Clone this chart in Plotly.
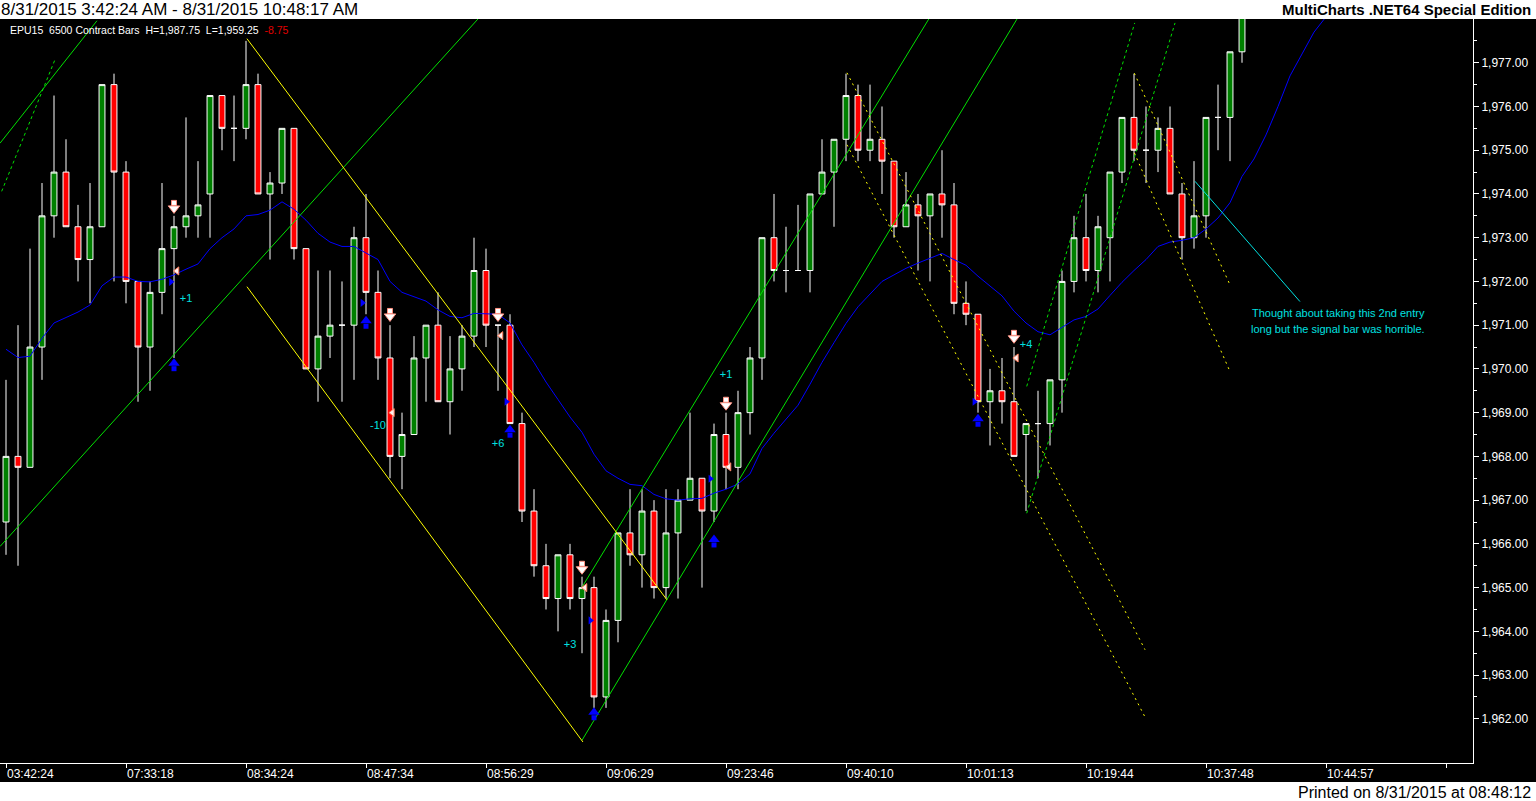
"""ES 6500 contract bars, 8/31/2015 - MultiCharts style candlestick chart."""
import plotly.graph_objects as go

# ---- time axis (one label every 10 bars)
tick_bars = [0, 10, 20, 30, 40, 50, 60, 70, 80, 90, 100, 110, 120]
tick_text = ["03:42:24", "07:33:18", "08:34:24", "08:47:34", "08:56:29",
             "09:06:29", "09:23:46", "09:40:10", "10:01:13", "10:19:44",
             "10:37:48", "10:44:57", ""]

# ---- OHLC per bar (bar 0 .. 103)
opens = [1966.5, 1968.0, 1967.75, 1970.5, 1973.5, 1974.5, 1973.25, 1972.5, 1973.25, 1976.5,
         1974.5, 1972.0, 1970.5, 1971.75, 1972.75, 1973.25, 1973.5, 1974.0, 1976.25, 1975.5,
         1975.5, 1976.5, 1974.0, 1974.25, 1975.5, 1972.75, 1970.0, 1970.75, 1971.0, 1971.0,
         1973.0, 1971.75, 1970.25, 1968.0, 1968.5, 1970.25, 1971.0, 1969.25, 1970.0, 1970.75,
         1972.25, 1971.0, 1971.0, 1968.75, 1966.75, 1965.5, 1964.75, 1965.75, 1964.75, 1965.0,
         1962.5, 1964.25, 1966.25, 1965.75, 1966.75, 1965.0, 1966.25, 1967.0, 1967.5, 1966.75,
         1968.5, 1967.75, 1969.0, 1970.25, 1973.0, 1972.25, 1972.25, 1972.25, 1974.0, 1974.5,
         1975.25, 1976.25, 1975.0, 1975.25, 1974.75, 1973.25, 1973.75, 1973.5, 1974.0, 1973.75,
         1971.5, 1971.25, 1969.25, 1969.5, 1969.25, 1968.5, 1968.75, 1968.75, 1969.75, 1972.0,
         1973.0, 1972.25, 1973.0, 1974.5, 1975.75, 1975.0, 1975.0, 1975.5, 1974.0, 1973.0,
         1973.5, 1975.75, 1975.75, 1977.25]
highs = [1969.75, 1971.0, 1972.75, 1974.25, 1976.25, 1975.25, 1973.75, 1974.25, 1976.5, 1976.75,
         1974.75, 1972.0, 1972.0, 1974.25, 1973.5, 1975.75, 1974.75, 1976.25, 1976.25, 1976.25,
         1977.5, 1976.75, 1974.5, 1975.5, 1975.5, 1972.75, 1972.25, 1972.25, 1972.0, 1973.25,
         1974.0, 1972.25, 1971.0, 1969.0, 1970.75, 1971.0, 1971.75, 1970.75, 1971.0, 1973.0,
         1972.75, 1971.0, 1971.25, 1969.0, 1967.25, 1966.0, 1965.75, 1966.0, 1965.25, 1965.25,
         1964.5, 1966.25, 1967.25, 1967.25, 1967.0, 1967.25, 1967.25, 1969.0, 1967.5, 1968.75,
         1969.0, 1969.5, 1970.5, 1973.0, 1974.0, 1973.25, 1973.75, 1974.0, 1975.25, 1975.25,
         1976.75, 1976.5, 1976.5, 1976.0, 1974.75, 1974.5, 1974.0, 1974.0, 1975.0, 1974.25,
         1972.0, 1971.25, 1970.0, 1970.25, 1970.5, 1968.75, 1969.5, 1969.75, 1972.25, 1973.5,
         1974.0, 1973.5, 1974.5, 1975.75, 1976.75, 1976.0, 1975.75, 1976.0, 1974.25, 1974.75,
         1975.75, 1976.5, 1977.25, 1978.75]
lows = [1965.75, 1965.5, 1967.75, 1969.75, 1973.0, 1973.25, 1972.0, 1971.5, 1973.25, 1972.0,
        1971.5, 1969.25, 1969.5, 1971.25, 1970.25, 1973.0, 1973.0, 1973.0, 1975.0, 1974.75,
        1975.25, 1974.0, 1972.5, 1974.0, 1972.5, 1970.0, 1969.25, 1970.25, 1969.25, 1969.75,
        1971.25, 1969.75, 1967.5, 1967.25, 1968.5, 1969.25, 1969.25, 1968.5, 1969.5, 1970.5,
        1970.5, 1969.5, 1968.75, 1966.5, 1965.25, 1964.5, 1964.0, 1964.5, 1963.5, 1962.25,
        1962.25, 1963.75, 1965.5, 1965.0, 1964.75, 1964.75, 1964.75, 1967.0, 1965.0, 1966.5,
        1967.25, 1967.25, 1968.5, 1969.75, 1972.0, 1971.75, 1972.25, 1971.75, 1974.0, 1973.25,
        1974.75, 1974.75, 1974.75, 1974.0, 1973.0, 1973.25, 1972.25, 1972.0, 1973.0, 1971.25,
        1971.0, 1969.0, 1968.25, 1968.75, 1968.0, 1966.75, 1967.5, 1968.25, 1969.0, 1971.75,
        1972.0, 1971.75, 1972.0, 1974.25, 1974.75, 1974.25, 1974.5, 1974.0, 1972.5, 1972.75,
        1973.0, 1975.0, 1974.75, 1977.0]
closes = [1968.0, 1967.75, 1970.5, 1973.5, 1974.5, 1973.25, 1972.5, 1973.25, 1976.5, 1974.5,
          1972.0, 1970.5, 1971.75, 1972.75, 1973.25, 1973.5, 1973.75, 1976.25, 1975.5, 1975.5,
          1976.5, 1974.0, 1974.25, 1975.5, 1972.75, 1970.0, 1970.75, 1971.0, 1971.0, 1973.0,
          1971.75, 1970.25, 1968.0, 1968.5, 1970.25, 1971.0, 1969.25, 1970.0, 1970.75, 1972.25,
          1971.0, 1971.0, 1968.75, 1966.75, 1965.5, 1964.75, 1965.75, 1964.75, 1965.0, 1962.5,
          1964.25, 1966.25, 1965.75, 1966.75, 1965.0, 1966.25, 1967.0, 1967.5, 1966.75, 1968.5,
          1967.75, 1969.0, 1970.25, 1973.0, 1972.25, 1972.25, 1972.25, 1974.0, 1974.5, 1975.25,
          1976.25, 1975.0, 1975.25, 1974.75, 1973.25, 1973.75, 1973.5, 1974.0, 1973.75, 1971.5,
          1971.25, 1969.25, 1969.5, 1969.25, 1968.0, 1968.75, 1968.75, 1969.75, 1972.0, 1973.0,
          1972.25, 1973.25, 1974.5, 1975.75, 1975.0, 1975.0, 1975.5, 1974.0, 1973.0, 1973.5,
          1975.75, 1975.75, 1977.25, 1978.5]
bars = list(range(len(opens)))

# ---- blue average line (drawn a few bars beyond the last bar)
ma_vals = [1970.45, 1970.26, 1970.29, 1970.7, 1971.05, 1971.18, 1971.3, 1971.46, 1971.9, 1972.1,
           1972.1, 1972.0, 1971.99, 1972.05, 1972.15, 1972.28, 1972.4, 1972.75, 1973.0, 1973.2,
           1973.5, 1973.53, 1973.63, 1973.82, 1973.65, 1973.4, 1973.1, 1972.9, 1972.8, 1972.8,
           1972.65, 1972.5, 1972.0, 1971.75, 1971.65, 1971.55, 1971.35, 1971.2, 1971.17, 1971.27,
           1971.26, 1971.25, 1971.05, 1970.55, 1970.15, 1969.7, 1969.3, 1968.9, 1968.55, 1968.05,
           1967.67, 1967.5, 1967.36, 1967.33, 1967.13, 1967.03, 1967.0, 1967.03, 1967.04, 1967.16,
           1967.25, 1967.37, 1967.6, 1968.18, 1968.53, 1968.85, 1969.17, 1969.65, 1970.15, 1970.6,
           1971.04, 1971.42, 1971.7, 1972.0, 1972.15, 1972.3, 1972.42, 1972.53, 1972.64, 1972.5,
           1972.37, 1972.12, 1971.9, 1971.67, 1971.32, 1971.05, 1970.85, 1970.78, 1970.95, 1971.12,
           1971.2, 1971.37, 1971.68, 1971.98, 1972.25, 1972.5, 1972.8, 1972.9, 1972.94, 1973.0,
           1973.2, 1973.45, 1973.8, 1974.4, 1974.8, 1975.35, 1976.0, 1976.7, 1977.2, 1977.7,
           1978.05]
ma_bars = list(range(len(ma_vals)))

# ---- horizontal levels
blue_levels = [1976.5, 1969.5]
grey_levels = [1962.5]

# ---- trend lines: (bars, prices)
green_solid = [
    ([-0.5, 7.58], [1975.16, 1977.96]),
    ([-0.5, 39.33], [1965.94, 1978.0]),
    ([48.0, 84.25], [1961.51, 1978.0]),
    ([48.0, 76.9], [1965.01, 1978.0]),
]
green_dotted = [
    ([-0.36, 4.08], [1974.06, 1977.07]),
    ([85.06, 97.42], [1966.7, 1977.91]),
    ([85.06, 94.06], [1969.6, 1977.91]),
]
yellow_solid = [
    ([20.08, 55.08], [1977.55, 1964.72]),
    ([20.08, 48.08], [1971.88, 1961.47]),
]
yellow_dotted = [
    ([70.08, 94.92], [1976.77, 1963.58]),
    ([70.08, 94.92], [1975.125, 1962.04]),
    ([94.03, 102.0], [1976.76, 1971.92]),
    ([94.03, 102.0], [1974.94, 1969.94]),
]
cyan_line = ([99.08, 107.83], [1974.29, 1971.54])

# ---- strategy markers
down_bars = [14, 32, 41, 48, 60, 84]
down_px = [1973.72, 1971.25, 1971.25, 1965.47, 1969.22, 1970.75]
up_bars = [14, 30, 42, 49, 59, 81]
up_px = [1970.08, 1971.05, 1968.56, 1962.1, 1966.05, 1968.81]
exit_bars = [14.25, 32.2, 41.25, 48.25, 60.25, 84.2]
exit_px = [1972.24, 1969.0, 1970.76, 1965.0, 1967.76, 1970.25]
entry_bars = [13.75, 29.7, 41.7, 48.7, 58.7, 80.7]
entry_px = [1971.99, 1971.51, 1969.25, 1964.25, 1967.49, 1969.25]
pl_text = ["+1", "-10", "+6", "+3", "+1", "+4"]
pl_bars = [15, 31, 41, 47, 60, 85]
pl_px = [1971.6, 1968.7, 1968.27, 1963.69, 1969.85, 1970.54]

fig = go.Figure()

for lv in blue_levels:
    fig.add_hline(y=lv, line=dict(color="#0000ff", width=1, dash="4px,3px"), layer="below")
for lv in grey_levels:
    fig.add_hline(y=lv, line=dict(color="#3a3a3a", width=1, dash="3px,3px"), layer="below")

fig.add_trace(go.Candlestick(
    x=bars, open=opens, high=highs, low=lows, close=closes,
    increasing=dict(line=dict(color="white", width=1), fillcolor="#008000"),
    decreasing=dict(line=dict(color="white", width=1), fillcolor="#ff0000"),
    whiskerwidth=0, hoverinfo="skip"))

fig.add_trace(go.Scatter(x=ma_bars, y=ma_vals, mode="lines",
                         line=dict(color="#0000ff", width=1)))

for xs, ys in green_solid:
    fig.add_trace(go.Scatter(x=xs, y=ys, mode="lines", line=dict(color="#00e000", width=1)))
for xs, ys in green_dotted:
    fig.add_trace(go.Scatter(x=xs, y=ys, mode="lines",
                             line=dict(color="#00e000", width=1, dash="3px,3px")))
for xs, ys in yellow_solid:
    fig.add_trace(go.Scatter(x=xs, y=ys, mode="lines", line=dict(color="#ffff00", width=1)))
for xs, ys in yellow_dotted:
    fig.add_trace(go.Scatter(x=xs, y=ys, mode="lines",
                             line=dict(color="#ffff00", width=1, dash="2px,4px")))
fig.add_trace(go.Scatter(x=cyan_line[0], y=cyan_line[1], mode="lines",
                         line=dict(color="#00e0e0", width=1)))

# arrows: a square shaft plus a triangular head
head = 0.05
shaft = 0.075
fig.add_trace(go.Scatter(x=down_bars, y=[p + shaft for p in down_px], mode="markers",
                         marker=dict(symbol="square", size=5, color="white",
                                     line=dict(color="#ff9080", width=1))))
fig.add_trace(go.Scatter(x=down_bars, y=[p - head for p in down_px], mode="markers",
                         marker=dict(symbol="triangle-down", size=10, color="white",
                                     line=dict(color="#ff9080", width=1))))
fig.add_trace(go.Scatter(x=up_bars, y=[p - shaft for p in up_px], mode="markers",
                         marker=dict(symbol="square", size=5, color="#0000ff",
                                     line=dict(width=0))))
fig.add_trace(go.Scatter(x=up_bars, y=[p + head for p in up_px], mode="markers",
                         marker=dict(symbol="triangle-up", size=10, color="#0000ff",
                                     line=dict(width=0))))
fig.add_trace(go.Scatter(x=exit_bars, y=exit_px, mode="markers",
                         marker=dict(symbol="triangle-left", size=7, color="#fff0f0",
                                     line=dict(color="#ff8060", width=1))))
fig.add_trace(go.Scatter(x=entry_bars, y=entry_px, mode="markers",
                         marker=dict(symbol="triangle-right", size=7, color="#0000ff",
                                     line=dict(width=0))))
fig.add_trace(go.Scatter(x=pl_bars, y=pl_px, mode="text", text=pl_text,
                         textfont=dict(color="#00e0e0", size=11, family="Liberation Sans")))

# black frame round the plot (axis strips)
fig.add_shape(type="rect", xref="paper", yref="paper", x0=0, x1=1536 / 1473,
              y0=-19 / 744, y1=1, fillcolor="black", line=dict(width=0), layer="below")

fig.add_annotation(xref="paper", yref="paper", x=-0.001, y=(763 - 10) / 744,
                   xanchor="left", yanchor="middle", showarrow=False,
                   text="8/31/2015 3:42:24 AM - 8/31/2015 10:48:17 AM",
                   font=dict(family="Liberation Sans", size=17, color="black"))
fig.add_annotation(xref="paper", yref="paper", x=1533 / 1473, y=(763 - 10) / 744,
                   xanchor="right", yanchor="middle", showarrow=False,
                   text="<b>MultiCharts .NET64 Special Edition</b>",
                   font=dict(family="Liberation Sans", size=15, color="black"))
fig.add_annotation(xref="paper", yref="paper", x=8 / 1473, y=(763 - 30) / 744,
                   xanchor="left", yanchor="middle", showarrow=False,
                   text="EPU15  6500 Contract Bars  H=1,987.75  L=1,959.25  "
                        "<span style='color:#e00000'>-8.75</span>",
                   font=dict(family="Liberation Sans", size=10.5, color="white"))
fig.add_annotation(xref="paper", yref="paper", x=1533 / 1473, y=(763 - 792) / 744,
                   xanchor="right", yanchor="middle", showarrow=False,
                   text="Printed on 8/31/2015 at 08:48:12",
                   font=dict(family="Liberation Sans", size=16, color="black"))
fig.add_annotation(x=111, y=1971.28, showarrow=False, xanchor="center",
                   text="Thought about taking this 2nd entry",
                   font=dict(family="Liberation Sans", size=11, color="#00e0e0"))
fig.add_annotation(x=111, y=1970.92, showarrow=False, xanchor="center",
                   text="long but the signal bar was horrible.",
                   font=dict(family="Liberation Sans", size=11, color="#00e0e0"))

price_ticks = list(range(1962, 1978))
fig.update_layout(
    width=1536, height=801,
    margin=dict(l=0, r=63, t=19, b=38),
    paper_bgcolor="white", plot_bgcolor="black",
    showlegend=False,
    xaxis=dict(range=[-0.5, 122.25], tickmode="array", tickvals=tick_bars, ticktext=tick_text,
               ticks="outside", ticklen=4, tickcolor="white", showline=True,
               linecolor="white", linewidth=1, showgrid=False, zeroline=False,
               ticklabelposition="outside right",
               tickfont=dict(family="Liberation Sans", size=12, color="white"),
               rangeslider=dict(visible=False)),
    yaxis=dict(side="right", range=[1960.99, 1978.0], tickmode="array",
               tickvals=price_ticks, tickformat=",.2f",
               ticks="outside", ticklen=5, tickcolor="white", showline=True,
               linecolor="white", linewidth=1, showgrid=False, zeroline=False,
               tickfont=dict(family="Liberation Sans", size=12, color="white"),
               minor=dict(tickmode="array", tickvals=[v + 0.5 for v in price_ticks],
                          ticks="outside", ticklen=3, tickcolor="white")),
)

fig.write_html("out.html", config={"displayModeBar": False},
               post_script="document.body.style.margin='0px';"
                           "document.body.style.overflow='hidden';")
